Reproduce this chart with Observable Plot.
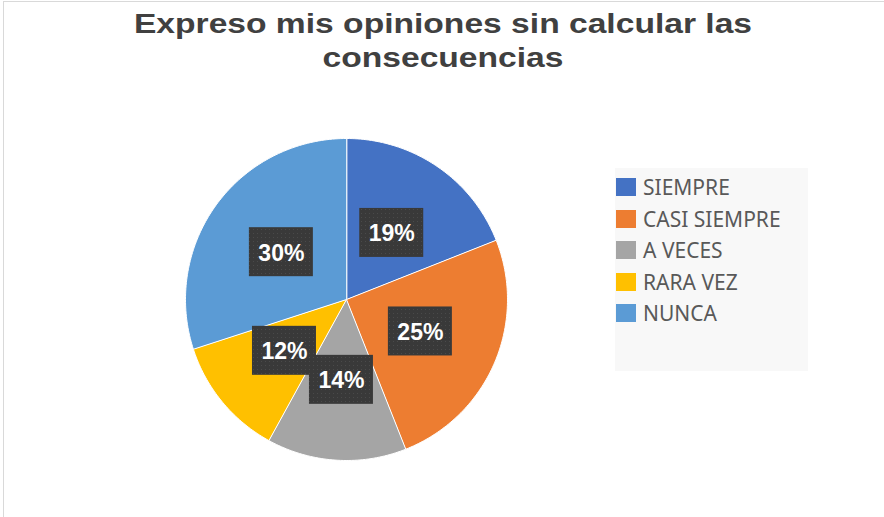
<!DOCTYPE html>
<html>
<head>
<meta charset="utf-8">
<script src="https://cdn.jsdelivr.net/npm/d3@7"></script>
<script src="https://cdn.jsdelivr.net/npm/@observablehq/plot@0.6"></script>
<style>
  html, body { margin: 0; padding: 0; background: #fff; }
  #wrap { position: relative; width: 884px; height: 517px; overflow: hidden; background: #fff; }
  #frame { position: absolute; left: 3px; top: 1px; width: 890px; height: 530px; border: 1px solid #d9d9d9; box-sizing: border-box; pointer-events: none; }
  #title { position: absolute; left: 0; top: 7px; width: 886px; text-align: center; font-family: "Liberation Sans", Arial, sans-serif; font-weight: bold; font-size: 28px; line-height: 34px; color: #404040; transform: scaleX(1.2); transform-origin: 443px 0; }
  #chart { position: absolute; left: 0; top: 0; }
  #legend { position: absolute; left: 615px; top: 168px; width: 193px; height: 203px; background: #f8f8f8; font-family: "Noto Sans", "Open Sans", sans-serif; font-size: 21px; color: #595959; }
  .item { position: absolute; left: 1px; height: 20px; display: flex; align-items: center; white-space: nowrap; }
  .sw { width: 20px; height: 18px; margin-right: 7px; }
</style>
</head>
<body>
<div id="wrap">
  <div id="chart"></div>
  <div id="title">Expreso mis opiniones sin calcular las<br>consecuencias</div>
  <div id="legend"></div>
  <div id="frame"></div>
</div>
<script>
// Data
const categories = ["SIEMPRE", "CASI SIEMPRE", "A VECES", "RARA VEZ", "NUNCA"];
const percents = [19, 25, 14, 12, 30];
const colors = ["#4472C4", "#ED7D31", "#A5A5A5", "#FFC000", "#5B9BD5"];

// Layout (pixels)
const W = 884, H = 517;
const cx = 346, cy = 299, R = 161;
const boxW = 64 / R, boxH = 49 / R;

const arcs = d3.pie().sort(null).value(d => d.v)(categories.map((c, i) => ({c, v: percents[i]})));

// polygon vertices per slice (unit circle, y up)
const pts = [];
arcs.forEach(a => {
  const c = a.data.c;
  pts.push({c, x: 0, y: 0});
  const n = Math.max(2, Math.ceil((a.endAngle - a.startAngle) / (Math.PI / 180)));
  for (let k = 0; k <= n; k++) {
    const t = a.startAngle + (a.endAngle - a.startAngle) * k / n;
    pts.push({c, x: Math.sin(t), y: Math.cos(t)});
  }
});

const labels = arcs.map(a => {
  const m = (a.startAngle + a.endAngle) / 2;
  return {c: a.data.c, text: a.data.v + "%", x: 0.5 * Math.sin(m), y: 0.5 * Math.cos(m)};
});

const chart = Plot.plot({
  width: W, height: H,
  marginTop: 0, marginRight: 0, marginBottom: 0, marginLeft: 0,
  x: {domain: [-cx / R, (W - cx) / R], axis: null},
  y: {domain: [-(H - cy) / R, cy / R], axis: null},
  color: {domain: categories, range: colors},
  style: {background: "transparent", overflow: "visible"},
  marks: [
    Plot.line(pts, {x: "x", y: "y", z: "c", fill: "c", stroke: "white", strokeWidth: 1, curve: "linear-closed"}),
    Plot.rect(labels, {x1: d => d.x - boxW / 2, x2: d => d.x + boxW / 2, y1: d => d.y - boxH / 2, y2: d => d.y + boxH / 2, fill: "url(#dots)"}),
    Plot.text(labels, {x: "x", y: "y", text: "text", fill: "white", fontSize: 23, fontWeight: "bold", fontFamily: "Liberation Sans, Arial, sans-serif", dy: 1})
  ]
});
// dotted dark pattern for label boxes
const ns = "http://www.w3.org/2000/svg";
const defs = document.createElementNS(ns, "defs");
defs.innerHTML = `<pattern id="dots" width="4" height="4" patternUnits="userSpaceOnUse">
  <rect width="4" height="4" fill="#393939"></rect>
  <rect x="1" y="1" width="1" height="1" fill="#4a4a4a"></rect>
</pattern>`;
chart.insertBefore(defs, chart.firstChild);
document.getElementById("chart").appendChild(chart);

// Legend
const legend = document.getElementById("legend");
categories.forEach((c, i) => {
  const it = document.createElement("div");
  it.className = "item";
  it.style.top = (9 + i * 31.5) + "px";
  it.innerHTML = `<span class="sw" style="background:${colors[i]}"></span><span>${c}</span>`;
  legend.appendChild(it);
});
</script>
</body>
</html>
